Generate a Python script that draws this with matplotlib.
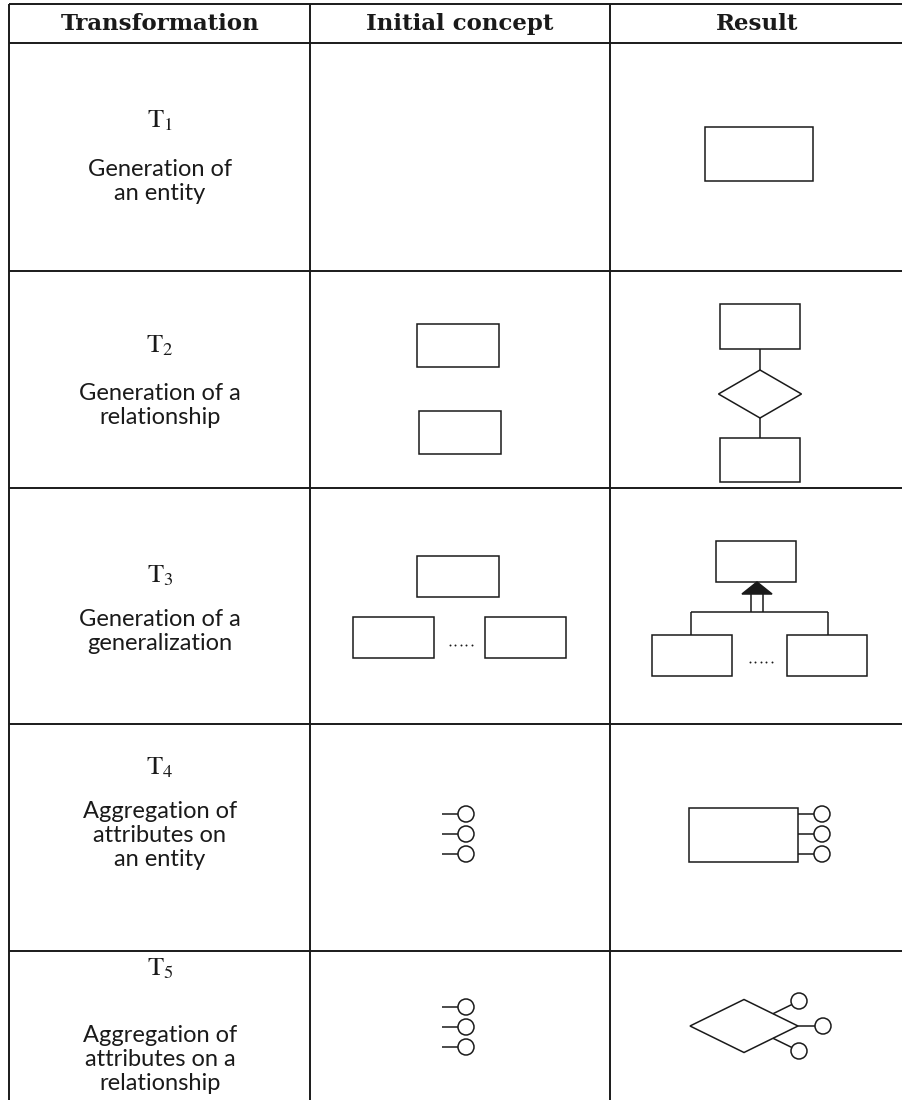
import matplotlib
matplotlib.use("Agg")
import matplotlib.pyplot as plt
from matplotlib.patches import Rectangle, Polygon, Circle

plt.rcParams['mathtext.fontset'] = 'stix'

# -----------------------
# table content
# -----------------------
headers = ['Transformation', 'Initial concept', 'Result']
t_labels = ['1', '2', '3', '4', '5']
descriptions = [
    ['Generation of', 'an entity'],
    ['Generation of a', 'relationship'],
    ['Generation of a', 'generalization'],
    ['Aggregation of', 'attributes on', 'an entity'],
    ['Aggregation of', 'attributes on a', 'relationship'],
]

# layout (pixels, origin top-left)
W, H = 903, 1100
col_edges = [9, 310, 610]
row_lines = [4, 43, 271, 488, 724, 951]
col_centers = [160, 460, 757]
t_y = [120, 345, 575, 767, 968]
desc_y0 = [170, 393, 620, 812, 1035]
line_gap = 24

LW_TABLE = 1.4
LW = 1.1
INK = '#1a1a1a'

fig = plt.figure(figsize=(W / 100, H / 100), dpi=100)
ax = fig.add_axes([0, 0, 1, 1])
ax.set_xlim(0, W)
ax.set_ylim(H, 0)
ax.axis('off')


def rect(x0, y0, x1, y1):
    ax.add_patch(Rectangle((x0, y0), x1 - x0, y1 - y0, fill=False, ec=INK, lw=LW))


def diamond(cx, cy, w, h):
    pts = [(cx - w / 2, cy), (cx, cy - h / 2), (cx + w / 2, cy), (cx, cy + h / 2)]
    ax.add_patch(Polygon(pts, closed=True, fill=False, ec=INK, lw=LW, joinstyle='miter'))


def circ(cx, cy, r=8):
    ax.add_patch(Circle((cx, cy), r, fill=False, ec=INK, lw=LW))


def seg(x0, y0, x1, y1):
    ax.plot([x0, x1], [y0, y1], color=INK, lw=LW, solid_capstyle='butt')


def dots(cx, cy, n=5, step=5.5):
    xs = [cx - step * (n - 1) / 2 + i * step for i in range(n)]
    ax.plot(xs, [cy] * n, ls='none', marker='o', ms=1.4, mew=0, color=INK)


def attr_stack(x_line0, cx, ys, r=8):
    for y in ys:
        seg(x_line0, y, cx - r, y)
        circ(cx, y, r)


# -----------------------
# grid
# -----------------------
for y in row_lines:
    ax.plot([col_edges[0], W], [y, y], color=INK, lw=LW_TABLE, solid_capstyle='butt')
for x in col_edges:
    ax.plot([x, x], [row_lines[0], H], color=INK, lw=LW_TABLE, solid_capstyle='butt')

# header
for cx, txt in zip(col_centers, headers):
    ax.text(cx, 24, txt, ha='center', va='center', fontsize=16.5,
            family='DejaVu Serif', fontweight='bold', color=INK)

# first column labels
for i, (sub, lines) in enumerate(zip(t_labels, descriptions)):
    ax.text(col_centers[0], t_y[i], r'$\mathrm{T}_{%s}$' % sub, ha='center', va='center',
            fontsize=19, color=INK)
    for k, ln in enumerate(lines):
        ax.text(col_centers[0], desc_y0[i] + k * line_gap, ln, ha='center', va='center',
                fontsize=17, family='Lato', color=INK)

# -----------------------
# T1: entity
# -----------------------
rect(705, 127, 813, 181)

# -----------------------
# T2: relationship
# -----------------------
rect(417, 324, 499, 367)
rect(419, 411, 501, 454)

rect(720, 304, 800, 349)
diamond(760, 394, 83, 48)
rect(720, 438, 800, 482)
seg(760, 349, 760, 370)
seg(760, 418, 760, 438)

# -----------------------
# T3: generalization
# -----------------------
rect(417, 556, 499, 597)
rect(353, 617, 434, 658)
rect(485, 617, 566, 658)
dots(461, 645)

rect(716, 541, 796, 582)
ax.add_patch(Polygon([(757, 582), (742, 594), (772, 594)], closed=True,
                     fc=INK, ec=INK, lw=LW))
seg(751, 594, 751, 612)
seg(763, 594, 763, 612)
seg(691, 612, 828, 612)
seg(691, 612, 691, 635)
seg(828, 612, 828, 635)
rect(652, 635, 732, 676)
rect(787, 635, 867, 676)
dots(761, 662)

# -----------------------
# T4: attributes on an entity
# -----------------------
attr_stack(442, 466, [814, 834, 854])
rect(689, 808, 798, 862)
attr_stack(798, 822, [814, 834, 854])

# -----------------------
# T5: attributes on a relationship
# -----------------------
attr_stack(442, 466, [1007, 1027, 1047])
dcx, dcy, dw, dh = 744, 1026, 108, 53
diamond(dcx, dcy, dw, dh)
# middle attribute from the right vertex
seg(dcx + dw / 2, dcy, 815, dcy)
circ(823, dcy)
# upper / lower attributes from the right edges
for sgn in (-1, 1):
    ex = 773
    ey = dcy + sgn * dh / 2 * (1 - (ex - dcx) / (dw / 2))
    ccx, ccy = 799, dcy + sgn * 25
    dx, dy = ccx - ex, ccy - ey
    d = (dx ** 2 + dy ** 2) ** 0.5
    seg(ex, ey, ccx - 8 * dx / d, ccy - 8 * dy / d)
    circ(ccx, ccy)

fig.savefig('out.png', dpi=100)
